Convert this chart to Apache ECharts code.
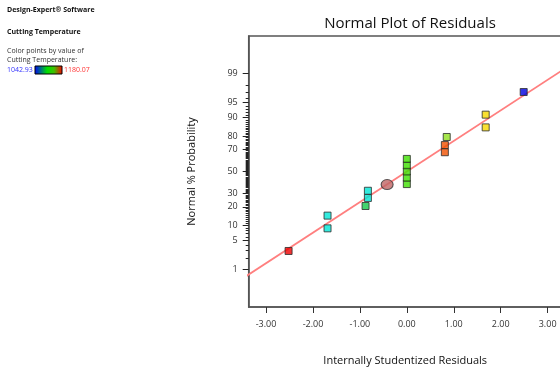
<!DOCTYPE html>
<html><head><meta charset="utf-8">
<script src="https://cdn.jsdelivr.net/npm/echarts@6/dist/echarts.min.js"></script>
<style>html,body{margin:0;padding:0;background:#fff}#c{width:560px;height:368px}</style>
</head><body><div id="c"></div>
<script>
// ---- data ----
const residuals = [-2.52, -1.69, -1.69, -0.88, -0.83, -0.83, 0.00, 0.00, 0.00, 0.00, 0.00, 0.81, 0.81, 0.85, 1.68, 1.68, 2.49];
const probabilityPct = [2.94, 8.82, 14.71, 20.59, 26.47, 32.35, 38.24, 44.12, 50.00, 55.88, 61.76, 67.65, 73.53, 79.41, 85.29, 91.18, 97.06];
const pointColors = ['#f00000','#00e6d6','#00e6d6','#14c84a','#00e6d6','#00e6d6','#3ee000','#3ee000','#3ee000','#3ee000','#3ee000','#f05000','#f05000','#90e020','#f8d800','#f8d800','#0000e0'];
const highlightResidual = [-0.42];
const highlightPct = [37.8];
const fitResidual = [-3.6, 3.6];
const fitPct = [0.444, 99.556];
const xTicks = [-3, -2, -1, 0, 1, 2, 3];
const yTickPct = [1, 5, 10, 20, 30, 50, 70, 80, 90, 95, 99];
const yMinorPct = [2,3,4,6,7,8,9,11,12,13,14,15,16,17,18,19,21,22,23,24,25,26,27,28,29,31,32,33,34,35,36,37,38,39,40,41,42,43,44,45,46,47,48,49,51,52,53,54,55,56,57,58,59,60,61,62,63,64,65,66,67,68,69,71,72,73,74,75,76,77,78,79,81,82,83,84,85,86,87,88,89,91,92,93,94,96,97,98];

function probit(p){
  const a=[-3.969683028665376e+01,2.209460984245205e+02,-2.759285104469687e+02,1.383577518672690e+02,-3.066479806614716e+01,2.506628277459239e+00];
  const b=[-5.447609879822406e+01,1.615858368580409e+02,-1.556989798598866e+02,6.680131188771972e+01,-1.328068155288572e+01];
  const c=[-7.784894002430293e-03,-3.223964580411365e-01,-2.400758277161838e+00,-2.549732539343734e+00,4.374664141464968e+00,2.938163982698783e+00];
  const d=[7.784695709041462e-03,3.224671290700398e-01,2.445134137142996e+00,3.754408661907416e+00];
  const pl=0.02425, ph=1-pl;
  if(p<pl){const q=Math.sqrt(-2*Math.log(p));return (((((c[0]*q+c[1])*q+c[2])*q+c[3])*q+c[4])*q+c[5])/((((d[0]*q+d[1])*q+d[2])*q+d[3])*q+1);}
  if(p<=ph){const q=p-0.5,r=q*q;return (((((a[0]*r+a[1])*r+a[2])*r+a[3])*r+a[4])*r+a[5])*q/(((((b[0]*r+b[1])*r+b[2])*r+b[3])*r+b[4])*r+1);}
  const q=Math.sqrt(-2*Math.log(1-p));return -(((((c[0]*q+c[1])*q+c[2])*q+c[3])*q+c[4])*q+c[5])/((((d[0]*q+d[1])*q+d[2])*q+d[3])*q+1);
}
const z = pct => probit(pct/100);

const yMajorZ = yTickPct.map(z);
const yMinorZ = yMinorPct.map(z);
const Y_MIN = -3.222, Y_MAX = 3.222;
const FONT = '"Open Sans", "DejaVu Sans", sans-serif';

const pts = residuals.map((r,i)=>({value:[r, z(probabilityPct[i])], itemStyle:{color:pointColors[i]}}));

const chart = echarts.init(document.getElementById('c'), null, {renderer:'canvas'});
chart.setOption({
  animation:false,
  backgroundColor:'#fff',
  textStyle:{fontFamily:FONT},
  grid:{left:248.7, top:36, width:313, height:271, show:true, borderColor:'#555', borderWidth:1.5, outerBoundsMode:'none', containLabel:false},
  title:{text:'Normal Plot of Residuals', left:405, top:11, textAlign:'center',
    textStyle:{fontFamily:FONT, fontSize:15, fontWeight:'normal', color:'#111'}},
  xAxis:{type:'value', min:-3.37, max:3.30,
    name:'Internally Studentized Residuals', nameLocation:'middle', nameGap:48,
    nameTextStyle:{fontFamily:FONT, fontSize:11, color:'#111'},
    axisLine:{show:true, onZero:false, lineStyle:{color:'#555', width:1.5}},
    axisTick:{show:true, inside:false, length:6, customValues:xTicks, lineStyle:{color:'#333'}},
    axisLabel:{customValues:xTicks, margin:13, fontFamily:FONT, fontSize:9, color:'#333',
      formatter:v=>v.toFixed(2)},
    splitLine:{show:false}},
  yAxis:[{type:'value', min:Y_MIN, max:Y_MAX,
    name:'Normal % Probability', nameLocation:'middle', nameGap:51, nameRotate:90,
    nameTextStyle:{fontFamily:FONT, fontSize:11, color:'#111'},
    axisLine:{show:true, onZero:false, lineStyle:{color:'#555', width:1.5}},
    axisTick:{show:true, inside:false, length:6, customValues:yMajorZ, lineStyle:{color:'#222'}},
    axisLabel:{customValues:yMajorZ, margin:11, fontFamily:FONT, fontSize:9, color:'#333',
      formatter:v=>{let best=0,bd=1e9;yMajorZ.forEach((zz,i)=>{const dd=Math.abs(zz-v);if(dd<bd){bd=dd;best=i;}});return String(yTickPct[best]);}},
    splitLine:{show:false}},
   {type:'value', min:Y_MIN, max:Y_MAX, position:'left', offset:0,
    axisLine:{show:false, onZero:false},
    axisTick:{show:true, inside:false, length:3, customValues:yMinorZ, lineStyle:{color:'#222'}},
    axisLabel:{show:false}, splitLine:{show:false}}],
  series:[
    {type:'line', data:fitResidual.map((r,i)=>[r, z(fitPct[i])]), symbol:'none', clip:true,
      lineStyle:{color:'#ff7f7f', width:1.8}, z:1},
    {type:'scatter', data:pts, symbol:'rect', symbolSize:7,
      itemStyle:{borderColor:'#2a2a2a', borderWidth:1}, z:3},
    {type:'scatter', data:highlightResidual.map((r,i)=>[r, z(highlightPct[i])]), symbol:'circle', symbolSize:[12,10],
      itemStyle:{color:'#c06464', borderColor:'#333', borderWidth:1}, z:4}
  ],
  graphic:[
    {type:'text', left:7, top:6, style:{text:'Design-Expert® Software', fontFamily:FONT, fontSize:7, fontWeight:'bold', fill:'#111'}},
    {type:'text', left:7, top:28, style:{text:'Cutting Temperature', fontFamily:FONT, fontSize:7, fontWeight:'bold', fill:'#111'}},
    {type:'text', left:7, top:47, style:{text:'Color points by value of', fontFamily:FONT, fontSize:7, fill:'#333'}},
    {type:'text', left:7, top:56, style:{text:'Cutting Temperature:', fontFamily:FONT, fontSize:7, fill:'#333'}},
    {type:'text', left:7, top:66, style:{text:'1042.93', fontFamily:FONT, fontSize:7, fill:'#3333ff'}},
    {type:'rect', shape:{x:35, y:66, width:27, height:8},
      style:{fill:new echarts.graphic.LinearGradient(0,0,1,0,[{offset:0,color:'#0000ff'},{offset:0.45,color:'#00e000'},{offset:0.7,color:'#40c000'},{offset:1,color:'#ff0000'}]), stroke:'#000', lineWidth:1}},
    {type:'text', left:64, top:66, style:{text:'1180.07', fontFamily:FONT, fontSize:7, fill:'#ff3333'}}
  ]
});
</script></body></html>
